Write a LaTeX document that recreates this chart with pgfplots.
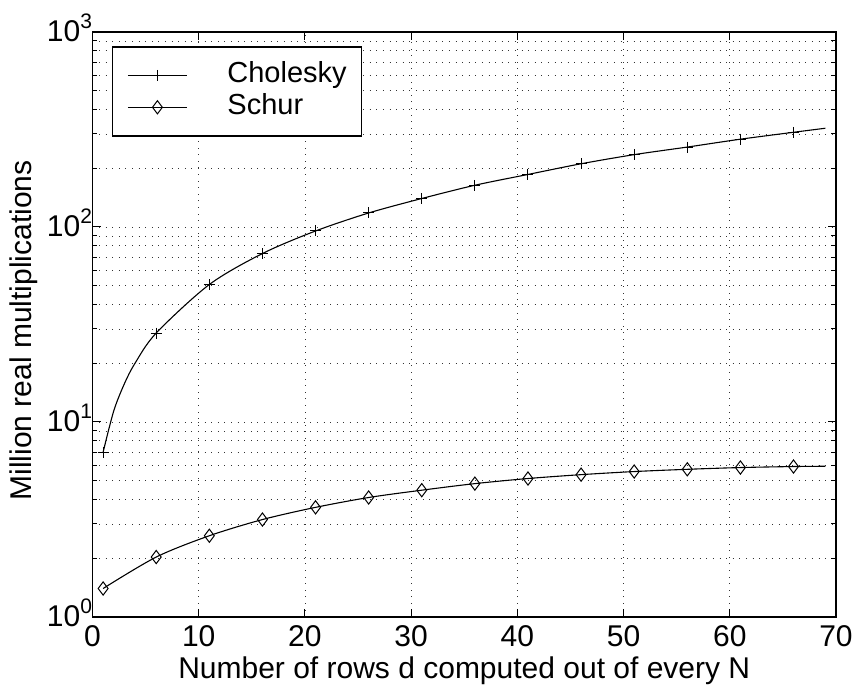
\documentclass[border=0pt]{standalone}
\usepackage{fontspec}
\setmainfont{Liberation Sans}
\usepackage{pgfplots}
\pgfplotsset{compat=1.18}

\newcommand{\pw}[1]{10\raisebox{0.45em}{\fontsize{21}{24}\selectfont #1}}

\begin{document}
\begin{tikzpicture}
\begin{axis}[
  scale only axis, width=743.5pt, height=585pt,
  xmin=0, xmax=70, ymode=log, ymin=1, ymax=1000,
  xtick={0,10,...,70},
  ytick={1,10,100,1000},
  yticklabels={\pw{0},\pw{1},\pw{2},\pw{3}},
  minor ytick={2,3,...,9,20,30,...,90,200,300,...,900},
  xmajorgrids, ymajorgrids, yminorgrids,
  grid style={black!80, line width=0.8pt, dash pattern=on 0.8pt off 5.8pt},
  minor grid style={black!80, line width=0.8pt, dash pattern=on 0.8pt off 5.8pt},
  tick align=inside, major tick length=8pt, minor tick length=5pt,
  tick style={black, line width=1pt},
  axis line style={line width=1.5pt},
  /pgf/number format/assume math mode=true,
  tick label style={font=\fontsize{30}{36}\selectfont},
  xticklabel style={yshift=-5pt},
  yticklabel style={xshift=3pt, yshift=4pt},
  label style={font=\fontsize{30}{36}\selectfont},
  xlabel={Number of rows d computed out of every N},
  ylabel={Million real multiplications},
  xlabel style={at={(axis description cs:0.5,-0.1043)}, anchor=base},
  ylabel style={at={(axis description cs:-0.0814,0.49)}, anchor=base},
  legend style={at={(axis description cs:0.0262,0.976)}, anchor=north west,
    draw=black, line width=1.5pt, fill=white,
    font=\fontsize{29}{35}\selectfont,
    inner xsep=14.7pt, inner ysep=15pt,
    nodes={inner sep=0pt, text height=21pt, text depth=6pt},
    row sep=5pt, column sep=40pt, cells={anchor=west}},
  legend image code/.code={
    \draw[#1] (0pt,0pt) -- (59pt,0pt);
    \draw[#1, only marks] plot coordinates {(29.5pt,0pt)};},
]
\addlegendimage{black, line width=1pt, mark=+, mark size=5.5pt}
\addlegendentry{Cholesky}
\addlegendimage{black, line width=1pt, mark=diamond, mark size=6.6pt}
\addlegendentry{Schur}

% lines
\addplot[black, line width=1.1pt, smooth, forget plot] coordinates {
  (1,7.0) (2,11.4) (3,15.7) (4,20.0) (6,28.6) (11,50.7) (16,73.1) (21,95.4)
  (26,118) (31,140) (36,163.7) (41,186) (46,211) (51,235) (56,257) (61,282)
  (66,306) (69,321)};
\addplot[black, line width=1.1pt, smooth, forget plot] coordinates {
  (1,1.40) (6,2.03) (11,2.61) (16,3.16) (21,3.65) (26,4.10) (31,4.47)
  (36,4.83) (41,5.13) (46,5.37) (51,5.57) (56,5.72) (61,5.84) (66,5.91) (69,5.93)};

% markers
\addplot[black, line width=1pt, only marks, mark=+, mark size=5.5pt, forget plot] coordinates {
  (1,7.0) (6,28.6) (11,50.7) (16,73.1) (21,95.4) (26,118) (31,140) (36,163.7)
  (41,186) (46,211) (51,235) (56,257) (61,282) (66,306)};
\addplot[black, line width=1pt, only marks, mark=diamond, mark size=6.6pt, forget plot] coordinates {
  (1,1.40) (6,2.03) (11,2.61) (16,3.16) (21,3.65) (26,4.10) (31,4.47)
  (36,4.83) (41,5.13) (46,5.37) (51,5.57) (56,5.72) (61,5.84) (66,5.91)};
\end{axis}
\path ([shift={(-92.5pt,-70pt)}]current axis.south west)
  rectangle ([shift={(764.5pt,617pt)}]current axis.south west);
\end{tikzpicture}
\end{document}
